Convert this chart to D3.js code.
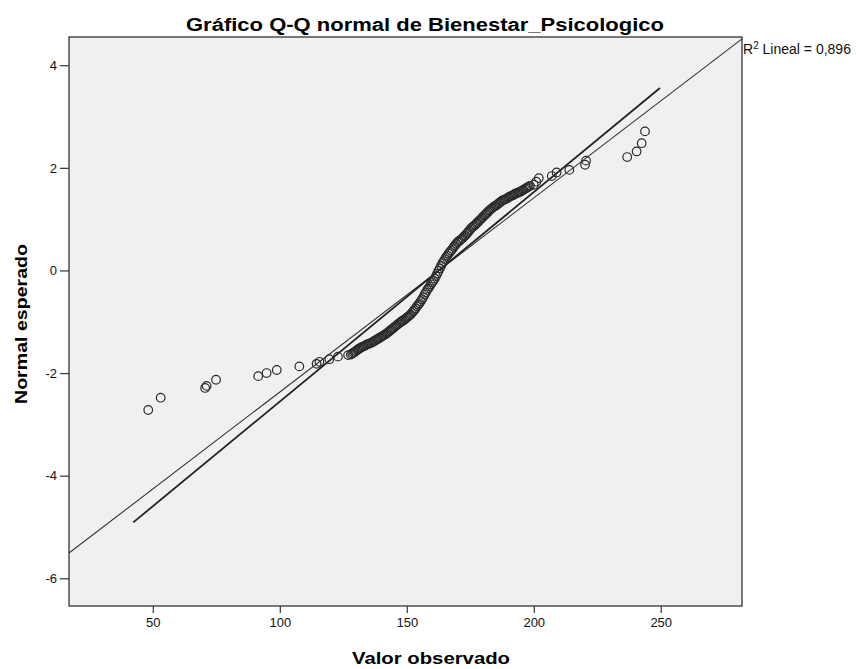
<!DOCTYPE html>
<html>
<head>
<meta charset="utf-8">
<script src="https://cdn.jsdelivr.net/npm/d3@7"></script>
<style>
  html, body { margin: 0; padding: 0; background: #ffffff; }
  svg { display: block; font-family: "Liberation Sans", Arial, sans-serif; }
</style>
</head>
<body>
<svg id="chart" width="856" height="669"></svg>
<script>
// ---- data ----
const observed = [
  48.2, 53.1, 70.6, 71.2, 74.9, 91.5, 94.8, 98.8, 107.7, 114.5, 115.6, 119.5, 122.9, 126.9,
  128, 128.5, 129, 129.5, 130, 130.5, 131, 131.5, 132, 132.5, 133, 133.5, 134, 134.5, 135, 135.5,
  136, 136.5, 137, 137.5, 138, 138.5, 139, 139.5, 140, 140.5, 141, 141.5, 142, 142.5, 143, 143.5,
  144, 144.5, 145, 145.5, 146, 146.5, 147, 147.5, 148, 148.5, 149, 149.5, 150, 150.5, 151, 151.5,
  152, 152.5, 153, 153.5, 154, 154.5, 155, 155.5, 156, 156.5, 157, 157.5, 158, 158.5, 159, 159.5,
  160, 160.5, 161, 161.5, 162, 162.5, 163, 163.5, 164, 164.5, 165, 165.5, 166, 166.5, 167, 167.5,
  168, 168.5, 169, 169.5, 170, 170.5, 171, 171.5, 172, 172.5, 173, 173.5, 174, 174.5, 175, 175.5,
  176, 176.5, 177, 177.5, 178, 178.5, 179, 179.5, 180, 180.5, 181, 181.5, 182, 182.5, 183, 183.5,
  184, 184.5, 185, 185.5, 186, 186.5, 187, 187.5, 188, 188.5, 189, 189.5, 190, 190.5, 191, 191.5,
  192, 192.5, 193, 193.5, 194, 194.5, 195, 195.5, 196, 196.5, 197, 197.5, 198, 198.5,
  200, 201, 202, 207.1, 209.0, 214.0, 220.2, 220.6, 236.8, 240.5, 242.5, 243.8
];
const expectedNormal = [
  -2.72, -2.48, -2.29, -2.25, -2.13, -2.06, -2.00, -1.94, -1.87, -1.82, -1.78, -1.73, -1.68, -1.65,
  -1.64, -1.62, -1.60, -1.59, -1.57, -1.55, -1.53, -1.52, -1.50, -1.49, -1.48, -1.47, -1.45, -1.44, -1.43, -1.42,
  -1.41, -1.40, -1.38, -1.37, -1.35, -1.34, -1.32, -1.31, -1.29, -1.28, -1.26, -1.25, -1.23, -1.21, -1.19, -1.17,
  -1.15, -1.13, -1.11, -1.09, -1.07, -1.05, -1.03, -1.01, -0.99, -0.98, -0.96, -0.94, -0.92, -0.90, -0.88, -0.86,
  -0.83, -0.80, -0.77, -0.74, -0.70, -0.67, -0.64, -0.60, -0.56, -0.52, -0.47, -0.43, -0.38, -0.35, -0.31, -0.27,
  -0.23, -0.20, -0.16, -0.11, -0.06, -0.01, 0.04, 0.09, 0.14, 0.18, 0.22, 0.26, 0.29, 0.33, 0.36, 0.39,
  0.42, 0.46, 0.49, 0.52, 0.55, 0.57, 0.59, 0.61, 0.63, 0.66, 0.68, 0.71, 0.74, 0.77, 0.80, 0.83,
  0.85, 0.87, 0.89, 0.92, 0.94, 0.97, 0.99, 1.02, 1.04, 1.07, 1.09, 1.12, 1.14, 1.17, 1.19, 1.21,
  1.23, 1.25, 1.26, 1.28, 1.30, 1.32, 1.34, 1.36, 1.37, 1.38, 1.39, 1.41, 1.42, 1.44, 1.45, 1.46,
  1.47, 1.49, 1.50, 1.51, 1.52, 1.53, 1.54, 1.56, 1.57, 1.59, 1.60, 1.62, 1.63, 1.65,
  1.67, 1.73, 1.80, 1.84, 1.91, 1.96, 2.06, 2.14, 2.21, 2.32, 2.48, 2.71
];
const xTicks = [50, 100, 150, 200, 250];
const yTicks = [-6, -4, -2, 0, 2, 4];
const xDomain = [17, 282];
const yDomain = [-6.54, 4.55];
// fit line (R² lineal) : y = intercept + slope * x
const fitIntercept = -6.150;
const fitSlope = 0.03781;
const rSquaredLabel = "0,896";
// normal reference line : y = (x - mean) / sd
const refMean = 162.6;
const refSd = 24.5;
const refRange = [42.3, 249.7];

const titleText = "Gráfico Q-Q normal de Bienestar_Psicologico";
const xTitle = "Valor observado";
const yTitle = "Normal esperado";

// ---- drawing ----
const svg = d3.select("#chart");
const plot = { left: 69, right: 742, top: 37, bottom: 606 };

const x = d3.scaleLinear().domain(xDomain).range([plot.left, plot.right]);
const y = d3.scaleLinear().domain(yDomain).range([plot.bottom, plot.top]);

svg.append("defs").append("clipPath").attr("id", "clip")
  .append("rect")
  .attr("x", plot.left).attr("y", plot.top)
  .attr("width", plot.right - plot.left).attr("height", plot.bottom - plot.top);

svg.append("rect")
  .attr("x", plot.left).attr("y", plot.top)
  .attr("width", plot.right - plot.left).attr("height", plot.bottom - plot.top)
  .attr("fill", "#f0f0f0");

// axes
const xAxis = svg.append("g")
  .attr("transform", `translate(0,${plot.bottom})`)
  .call(d3.axisBottom(x).tickValues(xTicks).tickSize(7).tickSizeOuter(0).tickPadding(5).tickFormat(d => String(d)));
const yAxis = svg.append("g")
  .attr("transform", `translate(${plot.left},0)`)
  .call(d3.axisLeft(y).tickValues(yTicks).tickSize(9).tickSizeOuter(0).tickPadding(3).tickFormat(d => String(d)));
[xAxis, yAxis].forEach(g => {
  g.select(".domain").remove();
  g.selectAll(".tick line").attr("stroke", "#333").attr("stroke-width", 1.2);
  g.selectAll(".tick text").attr("fill", "#111").style("font-size", "13px")
    .style("font-family", "'Liberation Sans', Arial, sans-serif");
});

const lines = svg.append("g").attr("clip-path", "url(#clip)");
// fit line
lines.append("line")
  .attr("x1", x(xDomain[0])).attr("y1", y(fitIntercept + fitSlope * xDomain[0]))
  .attr("x2", x(xDomain[1])).attr("y2", y(fitIntercept + fitSlope * xDomain[1]))
  .attr("stroke", "#333").attr("stroke-width", 1.1);
// reference normal line
lines.append("line")
  .attr("x1", x(refRange[0])).attr("y1", y((refRange[0] - refMean) / refSd))
  .attr("x2", x(refRange[1])).attr("y2", y((refRange[1] - refMean) / refSd))
  .attr("stroke", "#222").attr("stroke-width", 1.8);

// points
svg.append("g").attr("clip-path", "url(#clip)")
  .selectAll("circle")
  .data(observed.map((v, i) => ({ v, e: expectedNormal[i] })))
  .join("circle")
  .attr("cx", d => x(d.v))
  .attr("cy", d => y(d.e))
  .attr("r", 4.3)
  .attr("fill", "none")
  .attr("stroke", "#2a2a2a")
  .attr("stroke-width", 1.2);

// frame
svg.append("rect")
  .attr("x", plot.left).attr("y", plot.top)
  .attr("width", plot.right - plot.left).attr("height", plot.bottom - plot.top)
  .attr("fill", "none").attr("stroke", "#333").attr("stroke-width", 1.3);

// R² label
const rl = svg.append("text")
  .attr("x", plot.right + 1).attr("y", plot.top + 17)
  .style("font-size", "14px").attr("fill", "#111");
rl.append("tspan").text("R");
rl.append("tspan").attr("dy", -5).style("font-size", "10px").text("2");
rl.append("tspan").attr("dy", 5).text(" Lineal = " + rSquaredLabel);

// titles
svg.append("text")
  .attr("x", 425).attr("y", 31)
  .attr("text-anchor", "middle")
  .style("font-size", "18px").style("font-weight", "bold")
  .attr("textLength", 478).attr("lengthAdjust", "spacingAndGlyphs")
  .text(titleText);

svg.append("text")
  .attr("x", 431).attr("y", 664)
  .attr("text-anchor", "middle")
  .style("font-size", "17px").style("font-weight", "bold")
  .attr("textLength", 158).attr("lengthAdjust", "spacingAndGlyphs")
  .text(xTitle);

svg.append("text")
  .attr("transform", `translate(27,${324}) rotate(-90)`)
  .attr("text-anchor", "middle")
  .style("font-size", "17px").style("font-weight", "bold")
  .attr("textLength", 160).attr("lengthAdjust", "spacingAndGlyphs")
  .text(yTitle);
</script>
</body>
</html>
